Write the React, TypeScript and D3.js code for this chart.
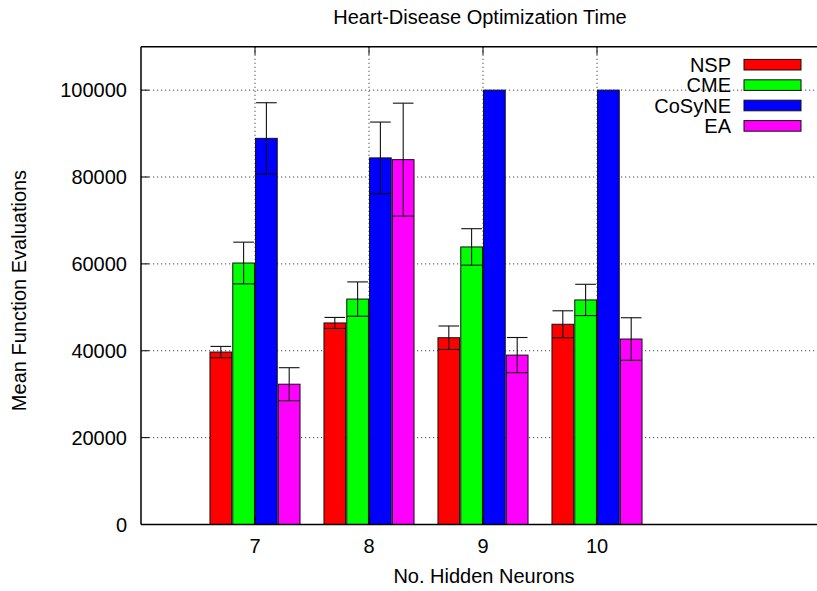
import React from "react";
import * as d3 from "d3";

const categories = [7, 8, 9, 10];
const seriesNames = ["NSP", "CME", "CoSyNE", "EA"];
const seriesColors = ["#ff0000", "#00ff00", "#0000ff", "#ff00ff"];
const nspMean = [39700, 46400, 43000, 46100];
const nspErr = [1300, 1270, 2700, 3100];
const cmeMean = [60200, 51900, 63900, 51700];
const cmeErr = [4800, 3950, 4200, 3600];
const cosyneMean = [88900, 84400, 100000, 100000];
const cosyneErr = [8200, 8250, 0, 0];
const eaMean = [32300, 84000, 39000, 42700];
const eaErr = [3800, 13000, 4050, 4900];
const yTicks = [0, 20000, 40000, 60000, 80000, 100000];
const gridY = [20000, 40000, 60000, 80000, 100000];

const means = [nspMean, cmeMean, cosyneMean, eaMean];
const errs = [nspErr, cmeErr, cosyneErr, eaErr];

const W = 817;
const H = 591;
const left = 141;
const top = 46.7;
const bottom = 524.5;
const FONT = "'Liberation Sans', Arial, Helvetica, sans-serif";
const FS = 20;

export default function App() {
  const x = d3.scaleLinear().domain([6, 12]).range([left, left + 6 * 114]);
  const y = d3.scaleLinear().domain([0, 110000]).range([bottom, top]);
  const right = x(12);
  const slot = 0.2;
  const bw = x(6.19) - x(6);

  return (
    <svg
      width={W}
      height={H}
      style={{ position: "absolute", left: 0, top: 0, background: "#fff" }}
      fontFamily={FONT}
    >
      <rect x={0} y={0} width={W} height={H} fill="#fff" />
      {gridY.map((v) => (
        <line
          key={"gy" + v}
          x1={left}
          x2={right}
          y1={y(v)}
          y2={y(v)}
          stroke="#444"
          strokeWidth={1}
          strokeDasharray="1.2,2.8"
        />
      ))}
      {categories.map((c) => (
        <line
          key={"gx" + c}
          x1={x(c)}
          x2={x(c)}
          y1={top}
          y2={bottom}
          stroke="#444"
          strokeWidth={1}
          strokeDasharray="1.2,2.8"
        />
      ))}
      {means.map((arr, si) =>
        arr.map((v, ci) => {
          const cx = x(categories[ci] + (si - 1.5) * slot);
          return (
            <rect
              key={"b" + si + "-" + ci}
              x={cx - bw / 2}
              y={y(v)}
              width={bw}
              height={y(0) - y(v)}
              fill={seriesColors[si]}
              stroke="#111"
              strokeWidth={1}
            />
          );
        })
      )}
      {means.map((arr, si) =>
        arr.map((v, ci) => {
          const e = errs[si][ci];
          if (!e) return null;
          const cx = x(categories[ci] + (si - 1.5) * slot);
          const hi = y(v + e);
          const lo = y(v - e);
          const cw = bw / 2 - 0.5;
          return (
            <g key={"e" + si + "-" + ci} stroke="#111" strokeWidth={1.1}>
              <line x1={cx} x2={cx} y1={hi} y2={lo} />
              <line x1={cx - cw} x2={cx + cw} y1={hi} y2={hi} />
              <line x1={cx - cw} x2={cx + cw} y1={lo} y2={lo} />
            </g>
          );
        })
      )}
      <line x1={left} x2={right} y1={top} y2={top} stroke="#000" strokeWidth={1.5} />
      <line x1={left} x2={right} y1={bottom} y2={bottom} stroke="#000" strokeWidth={1.5} />
      <line x1={left} x2={left} y1={top} y2={bottom} stroke="#000" strokeWidth={1.5} />
      {yTicks.map((v) => (
        <g key={"yt" + v}>
          <line x1={left} x2={left + 8} y1={y(v)} y2={y(v)} stroke="#000" strokeWidth={1} />
          <text x={127} y={y(v)} dy="0.36em" textAnchor="end" fontSize={FS} fill="#000">
            {v}
          </text>
        </g>
      ))}
      {categories.map((c) => (
        <g key={"xt" + c}>
          <line x1={x(c)} x2={x(c)} y1={bottom} y2={bottom - 8} stroke="#000" strokeWidth={1} />
          <line x1={x(c)} x2={x(c)} y1={top} y2={top + 8} stroke="#000" strokeWidth={1} />
          <text x={x(c)} y={553.3} textAnchor="middle" fontSize={FS} fill="#000">
            {c}
          </text>
        </g>
      ))}
      <text x={480} y={24} textAnchor="middle" fontSize={FS} fill="#000">
        Heart-Disease Optimization Time
      </text>
      <text x={484} y={583.3} textAnchor="middle" fontSize={FS} fill="#000">
        No. Hidden Neurons
      </text>
      <text
        transform={`translate(26,290.5) rotate(-90)`}
        textAnchor="middle"
        fontSize={FS}
        fill="#000"
      >
        Mean Function Evaluations
      </text>
      {seriesNames.map((n, i) => {
        const cy = 64.7 + i * 20.4;
        return (
          <g key={"lg" + n}>
            <text x={731} y={cy} dy="0.36em" textAnchor="end" fontSize={FS} fill="#000">
              {n}
            </text>
            <rect
              x={744}
              y={cy - 5.3}
              width={57}
              height={10.6}
              fill={seriesColors[i]}
              stroke="#111"
              strokeWidth={1}
            />
          </g>
        );
      })}
    </svg>
  );
}
